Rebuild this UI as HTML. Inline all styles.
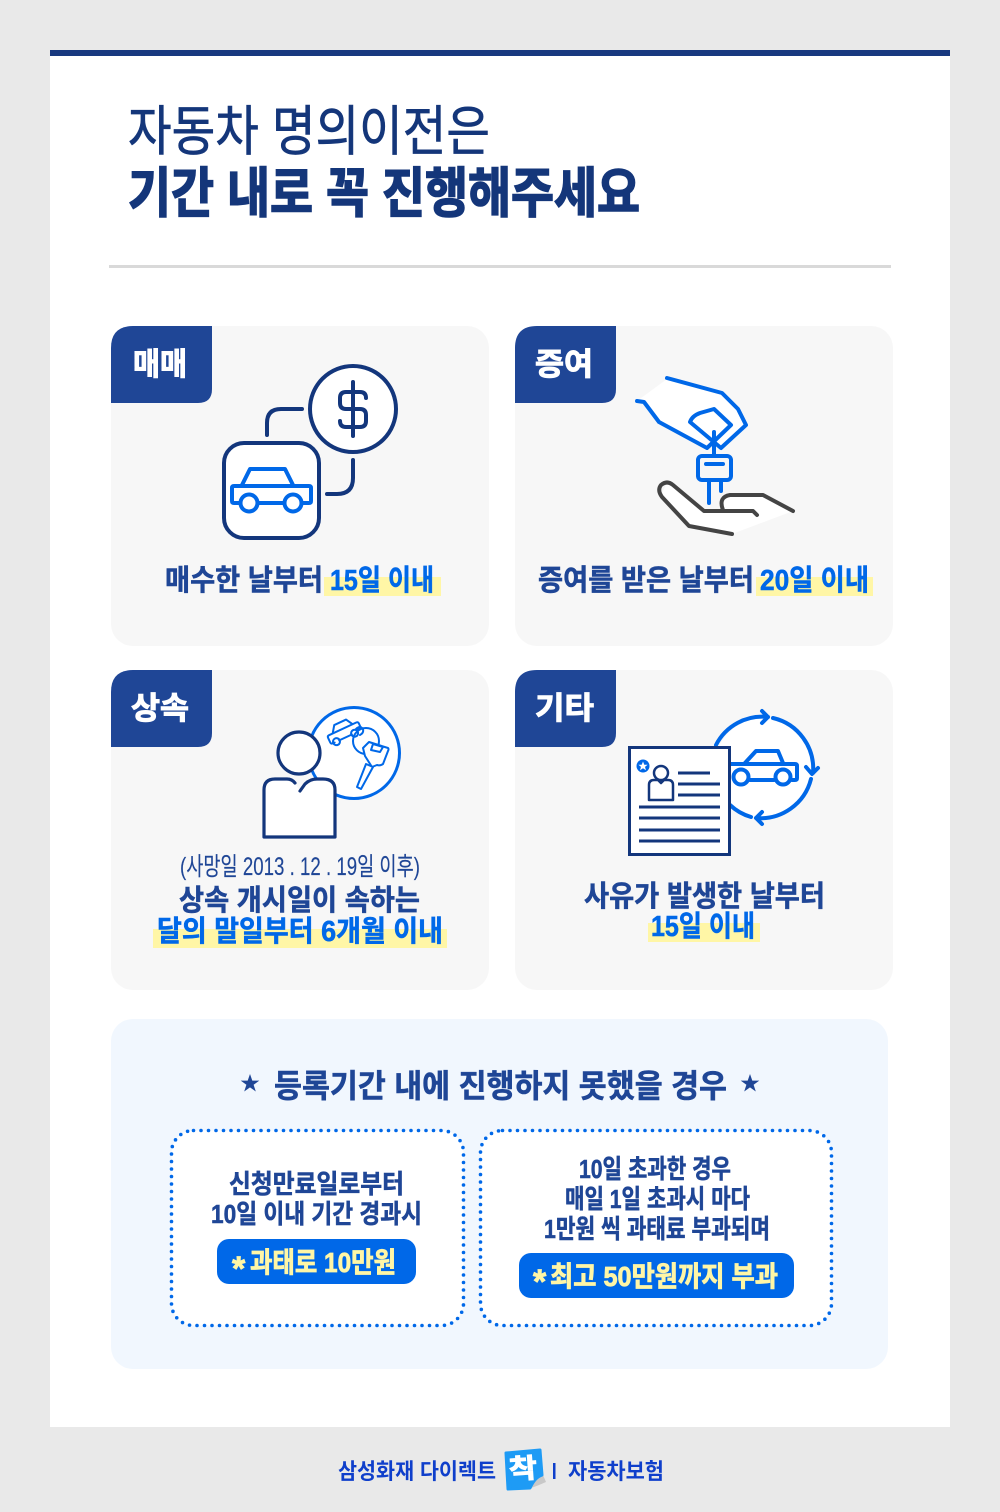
<!DOCTYPE html>
<html lang="ko"><head><meta charset="utf-8"><title>자동차 명의이전</title>
<style>
html,body{margin:0;padding:0;background:#e9e9e9}
svg{display:block}
text{font-family:"Liberation Sans","Noto Sans CJK KR",sans-serif;font-weight:700}
.n{fill:#1f4696}.b{fill:#0068e8}.y{fill:#fff6a6}.w{fill:#fff}.r{font-weight:400}
text.n{stroke:#1f4696;stroke-width:.55}
text.b{stroke:#0068e8;stroke-width:.55}
text.y{stroke:#fff6a6;stroke-width:.8}
text.w{stroke:#fff;stroke-width:1}
text.n.r{stroke-width:.15}
.nv{fill:none;stroke:#13367c;stroke-width:4;stroke-linecap:round;stroke-linejoin:round}
.bl{fill:none;stroke:#0068e8;stroke-width:4;stroke-linecap:round;stroke-linejoin:round}
</style></head><body>
<svg xmlns="http://www.w3.org/2000/svg" width="1000" height="1512" viewBox="0 0 1000 1512">
<rect width="1000" height="1512" fill="#e9e9e9"/>
<rect x="50" y="50" width="900" height="1377" fill="#fff"/>
<rect x="50" y="50" width="900" height="6" fill="#18397f"/>

<text x="128" y="150" font-size="54" class="r" fill="#14367a" stroke="#14367a" stroke-width=".7" textLength="362" lengthAdjust="spacingAndGlyphs">자동차 명의이전은</text>
<text x="128" y="212" font-size="54" fill="#14367a" stroke="#14367a" stroke-width="1.6" textLength="512" lengthAdjust="spacingAndGlyphs">기간 내로 꼭 진행해주세요</text>
<rect x="109" y="265" width="782" height="3" fill="#d9d9d9"/>

<!-- cards -->
<rect x="111" y="326" width="378" height="320" rx="22" fill="#f7f7f7"/>
<rect x="515" y="326" width="378" height="320" rx="22" fill="#f7f7f7"/>
<rect x="111" y="670" width="378" height="320" rx="22" fill="#f7f7f7"/>
<rect x="515" y="670" width="378" height="320" rx="22" fill="#f7f7f7"/>
<g fill="#1f4696">
<path d="M133 326H212V389Q212 403 198 403H111V348Q111 326 133 326Z"/>
<path d="M537 326H616V389Q616 403 602 403H515V348Q515 326 537 326Z"/>
<path d="M133 670H212V733Q212 747 198 747H111V692Q111 670 133 670Z"/>
<path d="M537 670H616V733Q616 747 602 747H515V692Q515 670 537 670Z"/>
</g>
<text x="133" y="375" font-size="31" class="w" textLength="54" lengthAdjust="spacingAndGlyphs">매매</text>
<text x="535" y="375" font-size="31" class="w" textLength="58" lengthAdjust="spacingAndGlyphs">증여</text>
<text x="131" y="719" font-size="31" class="w" textLength="58" lengthAdjust="spacingAndGlyphs">상속</text>
<text x="535" y="719" font-size="31" class="w" textLength="59" lengthAdjust="spacingAndGlyphs">기타</text>

<!-- icon 1 -->
<circle cx="353" cy="409" r="43" class="nv" style="fill:#fff"/>
<path class="nv" d="M353 382V436M366 398Q366 392 360 392H346Q340 392 340 398V403Q340 409 346 409H360Q366 409 366 415V421Q366 427 360 427H346Q340 427 340 421"/>
<path class="nv" d="M267 435V423Q267 409 281 409H302"/>
<path class="nv" d="M353 460V478Q353 494 337 494H327"/>
<rect x="224" y="443" width="95" height="95" rx="20" class="nv" style="fill:#fff"/>
<path class="bl" d="M242 485L250 469H285L293 485"/>
<path class="bl" d="M240 503H234Q232 503 232 501V488Q232 486 234 486H309Q311 486 311 488V501Q311 503 309 503H302M258 503H284"/>
<circle cx="249" cy="503" r="8.500" class="bl" style="fill:#fff"/><circle cx="293" cy="503" r="8.500" class="bl" style="fill:#fff"/>
<rect x="324" y="577" width="117" height="19" class="y"/>
<text x="165" y="590" font-size="29" class="n" textLength="158" lengthAdjust="spacingAndGlyphs">매수한 날부터</text>
<text x="330" y="590" font-size="29" class="b" textLength="104" lengthAdjust="spacingAndGlyphs">15일 이내</text>

<!-- icon 2 -->
<path fill="#fff" d="M667 379L722 393L738 409L746 425L721 448L714 442L707 448L659 422L644 402L637 401Z"/>
<path fill="#fff" d="M661 495L667 483L704 511H723Q720 497 727 495H763L793 511L732 534L689 527Z"/>
<path class="bl" d="M667 378L722 393L738 409L746 425L721 448L690 422Q692 416 700 413L714 409L731 425L707 448L659 422L644 402L637 401"/>
<path class="bl" d="M714 432V456M706 464H723M709 480V503M721 480V491"/>
<rect x="698" y="456" width="33" height="24" rx="4" class="bl"/>
<path fill="none" stroke="#444" stroke-width="4" stroke-linecap="round" stroke-linejoin="round" d="M732 534L689 526L662 497Q657 490 661 485Q667 480 673 485L704 511H753L757 515M723 510Q718 497 730 495H763L793 511"/>
<rect x="756" y="577" width="117" height="19" class="y"/>
<text x="538" y="590" font-size="29" class="n" textLength="216" lengthAdjust="spacingAndGlyphs">증여를 받은 날부터</text>
<text x="760" y="590" font-size="29" class="b" textLength="109" lengthAdjust="spacingAndGlyphs">20일 이내</text>

<!-- icon 3 -->
<circle cx="354" cy="753" r="45.500" class="bl" style="fill:#fff;stroke-width:3"/>
<g class="bl" style="stroke-width:2">
<g transform="rotate(-25 343 732)">
<path d="M331 738H329Q327 738 327 736V731Q327 729 329 729H359Q361 729 361 731V736H357M336 738H350M333 729L338 722H351L355 729"/>
<circle cx="333" cy="738" r="3.500"/><circle cx="353" cy="738" r="3.500"/>
</g>
<circle cx="366" cy="741" r="13"/>
<path d="M356 729Q360 725 363 729Q364 733 360 735"/>
<path style="fill:#fff" d="M369 742L388 748Q389 749 388 751L383 764Q380 766 377 765L372 767L365 756L363 748Z"/>
<path d="M373 744L383 747L380 752L371 750Z"/>
<path style="fill:#fff" d="M366 764L373 767L361 789L357 787Z"/>
</g>
<circle cx="299" cy="753" r="21" class="nv" style="fill:#fff;stroke-width:3.200"/>
<path fill="#fff" d="M264 790Q264 779 275 779H287Q292 779 295 783L300 791L305 784Q310 779 317 779H323Q335 779 335 790V837H264Z"/>
<path class="nv" style="stroke-width:3.200" d="M295 783Q292 779 287 779H275Q264 779 264 790V837H335V790Q335 779 323 779H317Q310 779 305 784L300 791"/>
<text x="180" y="875" font-size="25" class="n r" textLength="240" lengthAdjust="spacingAndGlyphs">(사망일 2013 . 12 . 19일 이후)</text>
<text x="179" y="910" font-size="29" class="n" textLength="241" lengthAdjust="spacingAndGlyphs">상속 개시일이 속하는</text>
<rect x="153" y="929" width="294" height="19" class="y"/>
<text x="157" y="941" font-size="29" class="b" textLength="286" lengthAdjust="spacingAndGlyphs">달의 말일부터 6개월 이내</text>

<!-- icon 4 -->
<circle cx="764" cy="768" r="50" fill="#fff"/>
<g class="bl">
<path d="M716 745A52 52 0 0 1 768 717M762 711L768 717L762 723"/>
<path d="M773 718A52 52 0 0 1 813 773M806 767L812 774L818 768"/>
<path d="M811 779A52 52 0 0 1 756 818M762 812L756 818L762 824"/>
<path d="M751 817A52 52 0 0 1 730 805"/>
<path d="M745 763L756 751H778L783 763"/>
<path d="M730 764H795Q797 764 797 766V778Q797 780 795 780H792M750 780H774"/>
<circle cx="741" cy="777" r="7.500" style="fill:#fff"/><circle cx="783" cy="777" r="7.500" style="fill:#fff"/>
</g>
<rect x="629.500" y="747.500" width="100" height="107" fill="#fff" stroke="#13367c" stroke-width="3"/>
<circle cx="643" cy="766" r="6.500" fill="#0068e8"/>
<path fill="#fff" d="M643 761.500L644.300 764.800H647.600L645 766.900L646 770.200L643 768.300L640 770.200L641 766.900L638.400 764.800H641.700Z"/>
<circle cx="661" cy="773" r="7" fill="#fff" stroke="#13367c" stroke-width="2.500"/>
<path fill="#fff" stroke="#13367c" stroke-width="2.500" stroke-linejoin="round" d="M649 785Q649 780 654 780H658L661 783L664 780H668Q673 780 673 785V800H649Z"/>
<path stroke="#13367c" stroke-width="3" d="M678 773H710M678 784H720M678 795H720M639 807H720M639 818H720M639 830H720M639 841H720"/>
<text x="584" y="906" font-size="29" class="n" textLength="241" lengthAdjust="spacingAndGlyphs">사유가 발생한 날부터</text>
<rect x="648" y="923" width="112" height="19" class="y"/>
<text x="651" y="936" font-size="29" class="b" textLength="104" lengthAdjust="spacingAndGlyphs">15일 이내</text>

<!-- bottom panel -->
<rect x="111" y="1019" width="777" height="350" rx="22" fill="#f1f7fe"/>
<path class="n" d="M250 1074L252.300 1080.600H259.300L253.600 1084.800L255.800 1091.500L250 1087.400L244.200 1091.500L246.400 1084.800L240.700 1080.600H247.700Z"/>
<path class="n" d="M750 1074L752.300 1080.600H759.300L753.600 1084.800L755.800 1091.500L750 1087.400L744.200 1091.500L746.400 1084.800L740.700 1080.600H747.700Z"/>
<text x="274" y="1097" font-size="32" class="n" textLength="453" lengthAdjust="spacingAndGlyphs">등록기간 내에 진행하지 못했을 경우</text>

<rect x="171.500" y="1130.500" width="292" height="195" rx="22" fill="#fff" stroke="#0068e8" stroke-width="3.600" stroke-linecap="round" stroke-dasharray="0 7.500"/>
<rect x="480.500" y="1130.500" width="351" height="195" rx="22" fill="#fff" stroke="#0068e8" stroke-width="3.600" stroke-linecap="round" stroke-dasharray="0 7.500"/>

<text x="229" y="1193" font-size="26" class="n" textLength="175" lengthAdjust="spacingAndGlyphs">신청만료일로부터</text>
<text x="211" y="1223" font-size="26" class="n" textLength="211" lengthAdjust="spacingAndGlyphs">10일 이내 기간 경과시</text>
<rect x="217" y="1239" width="199" height="45" rx="12" fill="#0068e8"/>
<text x="232" y="1280" font-size="34" class="y">*</text>
<text x="250" y="1272" font-size="28" class="y" textLength="146" lengthAdjust="spacingAndGlyphs">과태로 10만원</text>

<text x="579" y="1178" font-size="26" class="n" textLength="152" lengthAdjust="spacingAndGlyphs">10일 초과한 경우</text>
<text x="565" y="1208" font-size="26" class="n" textLength="185" lengthAdjust="spacingAndGlyphs">매일 1일 초과시 마다</text>
<text x="544" y="1238" font-size="26" class="n" textLength="226" lengthAdjust="spacingAndGlyphs">1만원 씩 과태료 부과되며</text>
<rect x="519" y="1253" width="275" height="45" rx="12" fill="#0068e8"/>
<text x="533" y="1293" font-size="34" class="y">*</text>
<text x="550" y="1286" font-size="28" class="y" textLength="228" lengthAdjust="spacingAndGlyphs">최고 50만원까지 부과</text>

<!-- footer -->
<text x="338" y="1479" font-size="22" fill="#0f3fcb" textLength="158" lengthAdjust="spacingAndGlyphs">삼성화재 다이렉트</text>
<path fill="#c8c8c8" d="M543 1475Q538 1476 531 1488Q537 1486 546 1482Z"/>
<path fill="#1e9bf5" stroke="#1e9bf5" stroke-width="3" stroke-linejoin="round" d="M506 1453L540 1450L542 1475Q535 1477 530 1488L508 1489Z"/>
<text x="509" y="1478" font-size="27" class="w" transform="rotate(-4 523 1470)" textLength="28" lengthAdjust="spacingAndGlyphs">착</text>
<rect x="553" y="1463" width="2.500" height="16" fill="#0f3fcb"/>
<text x="568" y="1479" font-size="22" fill="#0f3fcb" textLength="96" lengthAdjust="spacingAndGlyphs">자동차보험</text>
</svg>
</body></html>
